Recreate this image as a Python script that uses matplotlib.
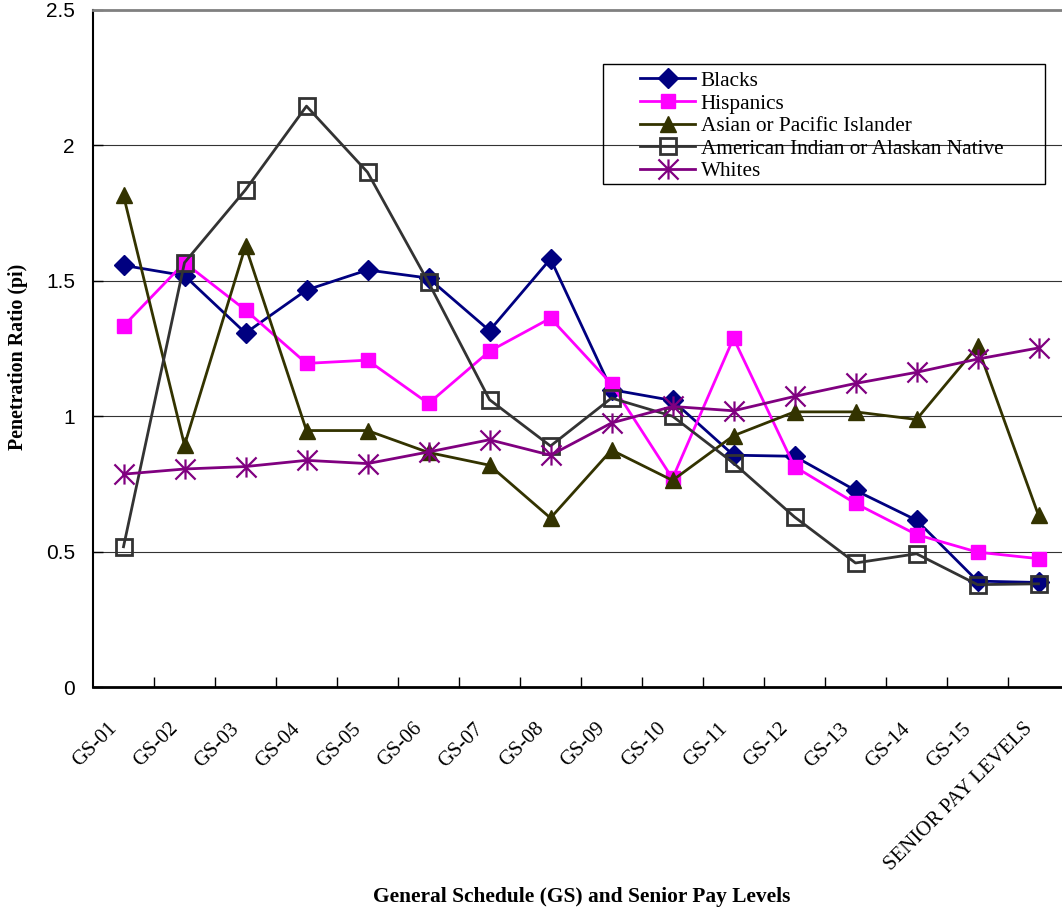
import numpy as np
import matplotlib
matplotlib.use("Agg")
import matplotlib.pyplot as plt
from matplotlib.path import Path
from matplotlib.patches import Rectangle
from matplotlib.transforms import ScaledTranslation

CATEGORIES = ["GS-01", "GS-02", "GS-03", "GS-04", "GS-05", "GS-06", "GS-07", "GS-08",
              "GS-09", "GS-10", "GS-11", "GS-12", "GS-13", "GS-14", "GS-15",
              "SENIOR PAY LEVELS"]
BLACKS = [1.557, 1.519, 1.307, 1.466, 1.54, 1.51, 1.316, 1.581,
          1.098, 1.058, 0.856, 0.852, 0.726, 0.616, 0.391, 0.386]
HISPANICS = [1.333, 1.567, 1.392, 1.195, 1.207, 1.047, 1.24, 1.362,
             1.119, 0.77, 1.288, 0.814, 0.678, 0.563, 0.498, 0.474]
ASIAN = [1.815, 0.893, 1.628, 0.947, 0.947, 0.866, 0.819, 0.624,
         0.875, 0.763, 0.928, 1.016, 1.016, 0.988, 1.258, 0.634]
AMIND = [0.518, 1.567, 1.836, 2.145, 1.901, 1.494, 1.061, 0.89,
         1.067, 1.0, 0.827, 0.628, 0.458, 0.492, 0.378, 0.381]
WHITES = [0.786, 0.805, 0.814, 0.837, 0.825, 0.868, 0.913, 0.856,
          0.975, 1.036, 1.02, 1.073, 1.121, 1.162, 1.211, 1.252]
YTICKS = [0, 0.5, 1, 1.5, 2, 2.5]
YTICK_LABELS = ["0", "0.5", "1", "1.5", "2", "2.5"]

SERIF = "Liberation Serif"
SANS = "Liberation Sans"

# excel style star: vertical bar plus an X
star = Path([(0, -1), (0, 1), (-1, -1), (1, 1), (-1, 1), (1, -1)],
            [Path.MOVETO, Path.LINETO, Path.MOVETO, Path.LINETO, Path.MOVETO, Path.LINETO])

W, H = 1062, 913
fig = plt.figure(figsize=(W / 100, H / 100), dpi=100)
ax = fig.add_axes([93 / W, (H - 687) / H, 976 / W, 677 / H])

x = np.arange(len(CATEGORIES))
lw = 2.0
ax.plot(x, BLACKS, color="#000080", lw=lw, marker="D", ms=10, label="Blacks", zorder=3)
ax.plot(x, HISPANICS, color="#FF00FF", lw=lw, marker="s", ms=10.5, label="Hispanics", zorder=4)
ax.plot(x, ASIAN, color="#333300", lw=lw, marker="^", ms=11, label="Asian or Pacific Islander", zorder=5)
ax.plot(x, AMIND, color="#333333", lw=lw, marker="s", ms=11, mfc="none", mew=2,
        label="American Indian or Alaskan Native", zorder=6)
ax.plot(x, WHITES, color="#800080", lw=lw, marker=star, ms=14.5, mew=1.6, label="Whites", zorder=7)

ax.set_xlim(-0.5, 15.5)
ax.set_ylim(0, 2.5)
ax.set_yticks(YTICKS)
ax.set_yticklabels(YTICK_LABELS, fontfamily=SANS, fontsize=15)
ax.tick_params(axis="y", direction="in", length=7, width=1, pad=13)
for yv in YTICKS[1:-1]:
    ax.axhline(yv, color="#333333", lw=0.8, zorder=1)

ax.set_xticks(x)
ax.set_xticks(x[:-1] + 0.5, minor=True)
ax.set_xticklabels(CATEGORIES, fontfamily=SERIF, fontsize=15, rotation=45,
                   ha="right", va="center", rotation_mode="anchor")
ax.tick_params(axis="x", which="major", length=0, pad=28)
ax.tick_params(axis="x", which="minor", direction="in", length=7, width=1)
for lab in ax.get_xticklabels():
    lab.set_transform(lab.get_transform() + ScaledTranslation(-0.09, 0, fig.dpi_scale_trans))

ax.spines["right"].set_visible(False)
ax.spines["top"].set_color("#808080")
ax.spines["top"].set_linewidth(2)
ax.spines["left"].set_linewidth(1.5)
ax.spines["bottom"].set_linewidth(2)

ax.set_ylabel("Penetration Ratio (pi)", fontfamily=SERIF, fontweight="bold", fontsize=14.4)
ax.yaxis.set_label_coords((28 - 93) / 976, (687 - 357) / 677)
ax.set_xlabel("General Schedule (GS) and Senior Pay Levels", fontfamily=SERIF,
              fontweight="bold", fontsize=15.4)
ax.xaxis.set_label_coords((582 - 93) / 976, (687 - 897) / 677)
ax.xaxis.label.set_va("center")

# legend frame drawn separately so the inner padding can match
fig.patches.append(Rectangle((602.5 / W, 1 - 184 / H), 442.5 / W, 120 / H,
                             transform=fig.transFigure, fill=False, ec="black", lw=1))
fig.legend(loc="upper left", bbox_to_anchor=(640 / W, 1 - 71 / H), frameon=False,
           prop={"family": SERIF, "size": 15.3}, borderpad=0, borderaxespad=0,
           handlelength=2.6, handletextpad=0.26, labelspacing=0.13, numpoints=1)

fig.savefig("out.png", dpi=100)
